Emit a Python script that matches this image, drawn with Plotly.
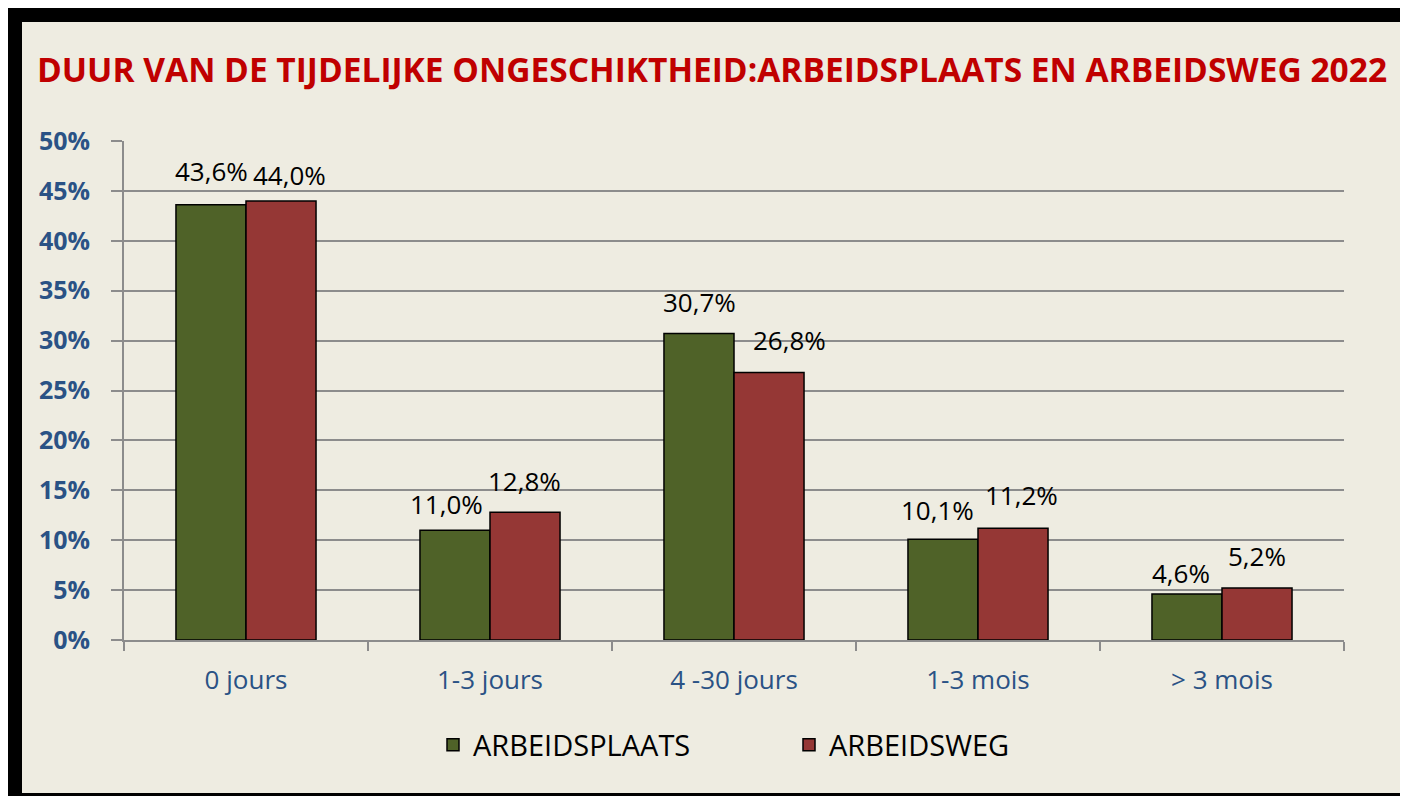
import plotly.graph_objects as go

categories = ['0 jours', '1-3 jours', '4 -30 jours', '1-3 mois', '> 3 mois']
arbeidsplaats = [43.6, 11.0, 30.7, 10.1, 4.6]
arbeidsweg = [44.0, 12.8, 26.8, 11.2, 5.2]
y_ticks = [0, 5, 10, 15, 20, 25, 30, 35, 40, 45, 50]

# label nudges (px) to follow the hand-placed labels of the original
nudge_plaats = [(0, 34), (-9, 26), (0, 32), (-6, 29), (-6, 21)]
nudge_weg = [(9, 26), (0, 31), (21, 33), (9, 33), (0, 32)]

# the page keeps its 8px body margin, so the figure is sized to fit inside it
W, H = 1392, 788
L, R, T, B = 116, 56, 133, 156
PW, PH = W - L - R, H - T - B


def px(x):
    return (x - L) / PW


def py(y):
    return (H - B - y) / PH


fig = go.Figure()
fig.add_trace(go.Bar(name='ARBEIDSPLAATS', x=categories, y=arbeidsplaats,
                     marker=dict(color='#4F6228', line=dict(color='black', width=1.5))))
fig.add_trace(go.Bar(name='ARBEIDSWEG', x=categories, y=arbeidsweg,
                     marker=dict(color='#953735', line=dict(color='black', width=1.5))))

half = 0.143
for series, nudges, off in [(arbeidsplaats, nudge_plaats, -half), (arbeidsweg, nudge_weg, half)]:
    for i, v in enumerate(series):
        dx, dy = nudges[i]
        fig.add_annotation(x=i + off, y=v, xref='x', yref='y', text=f'{v:.1f}%'.replace('.', ','),
                           showarrow=False, xshift=dx, yshift=dy, yanchor='middle',
                           font=dict(family='Open Sans', size=26, color='black'))

# black frame with the beige chart area inside
fig.add_shape(type='rect', xref='paper', yref='paper', x0=px(0), x1=px(W + 10), y0=py(H + 10), y1=py(0),
              fillcolor='black', line=dict(width=0), layer='below')
fig.add_shape(type='rect', xref='paper', yref='paper', x0=px(14), x1=px(W + 10), y0=py(785), y1=py(14),
              fillcolor='#EEECE1', line=dict(width=0), layer='below')

fig.update_layout(
    width=W, height=H,
    margin=dict(l=L, r=R, t=T, b=B),
    paper_bgcolor='white',
    plot_bgcolor='rgba(0,0,0,0)',
    barmode='group', bargap=0.426, bargroupgap=0,
    title=dict(text='<b>DUUR VAN DE TIJDELIJKE ONGESCHIKTHEID:ARBEIDSPLAATS EN ARBEIDSWEG 2022</b>',
               font=dict(family='Open Sans', size=33.5, color='#C00000'),
               xref='container', x=29 / W, xanchor='left', yref='container', y=1 - 62 / H, yanchor='middle'),
    legend=dict(orientation='h', x=px(425), xanchor='left', y=py(737), yanchor='middle',
                font=dict(family='Open Sans', size=29, color='black'), entrywidth=311,
                bgcolor='rgba(0,0,0,0)'),
    showlegend=True,
)
fig.update_yaxes(range=[0, 50], tickvals=y_ticks, ticktext=[f'{v}%' for v in y_ticks],
                 showgrid=True, gridcolor='#8C8C8C',
                 gridwidth=2, showline=True, linecolor='#8C8C8C', linewidth=2, ticks='outside',
                 ticklen=11, tickcolor='#8C8C8C', tickwidth=2, ticklabelstandoff=16, zeroline=False,
                 tickfont=dict(family='Open Sans', size=25, color='#2A5285', weight='bold'))
fig.update_xaxes(showline=True, linecolor='#8C8C8C', linewidth=2, ticks='outside', tickson='boundaries',
                 ticklen=9, tickcolor='#8C8C8C', tickwidth=2, ticklabelstandoff=16,
                 tickfont=dict(family='Open Sans', size=26, color='#2A5285'))

fig.write_html('out.html', config={'displayModeBar': False})
